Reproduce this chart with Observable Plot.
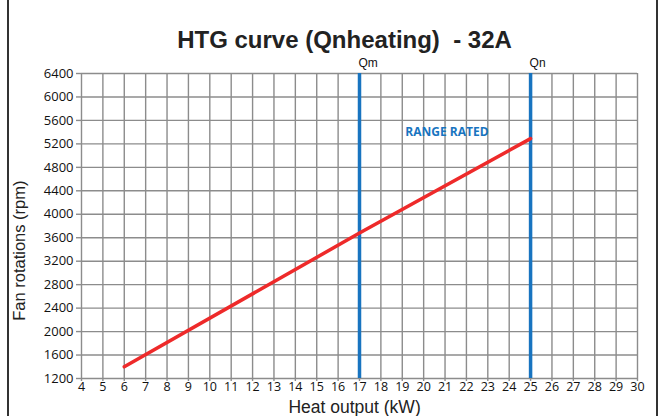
<!DOCTYPE html>
<html><head><meta charset="utf-8">
<script src="https://cdn.jsdelivr.net/npm/d3@7"></script>
<script src="https://cdn.jsdelivr.net/npm/@observablehq/plot@0.6"></script>
<style>
html,body{margin:0;padding:0;background:#fff;}
#wrap{position:relative;width:660px;height:416px;overflow:hidden;}
#frame{position:absolute;left:7px;top:-3px;width:651px;height:430px;border:2px solid #333;box-sizing:border-box;pointer-events:none;}
</style></head>
<body><div id="wrap"><div id="frame"></div></div>
<script>
const title = "HTG curve (Qnheating)  - 32A";
const xLabel = "Heat output (kW)";
const yLabel = "Fan rotations (rpm)";
const xTicks = d3.range(4, 31, 1);
const yTicks = d3.range(1200, 6401, 400);
const curveKW = [6, 17, 25];
const curveRPM = [1400, 3680, 5290];
const limitKW = [17, 25];
const limitNames = ["Qm", "Qn"];
const rangeText = "RANGE RATED";
const rangeAt = [21.09, 5394];

const curve = curveKW.map((x, i) => ({x, y: curveRPM[i]}));
const limits = limitKW.map((x, i) => ({x, name: limitNames[i]}));

const blue = "#1874c0";
const red = "#ee2a2a";
const grid = "#8c8c8c";
const tickFont = "Open Sans, Lato, sans-serif";
const arial = "Liberation Sans, Arial, sans-serif";

const chart = Plot.plot({
  width: 660, height: 416,
  marginLeft: 81, marginRight: 23, marginTop: 73, marginBottom: 38,
  style: {fontFamily: tickFont, background: "transparent"},
  x: {domain: [4, 30], axis: null},
  y: {domain: [1200, 6400], axis: null},
  marks: [
    Plot.gridX(xTicks, {stroke: grid, strokeOpacity: 1, strokeWidth: 1.4}),
    Plot.gridY(yTicks, {stroke: grid, strokeOpacity: 1, strokeWidth: 1.4}),
    Plot.axisX(xTicks, {tickSize: 3, stroke: grid, strokeWidth: 1.4, label: null, fill: "none", tickFormat: () => ""}),
    Plot.axisY(yTicks, {tickSize: 5, stroke: grid, strokeWidth: 1.4, label: null, fill: "none", tickFormat: () => ""}),
    Plot.text(xTicks, {x: d => d, y: 1200, text: d => String(d), lineAnchor: "top", dy: 4, fontSize: 12.5, fill: "#111", fontFamily: tickFont}),
    Plot.text(yTicks, {x: 4, y: d => d, text: d => String(d), textAnchor: "end", dx: -8, fontSize: 13, fill: "#111", fontFamily: tickFont}),
    Plot.ruleX(limits, {x: "x", y1: 1200, y2: 6400, stroke: blue, strokeWidth: 3.5}),
    Plot.text(limits, {x: "x", y: 6400, text: "name", textAnchor: "start", lineAnchor: "bottom", dx: -1, dy: -7, fontSize: 12, fontFamily: arial, fill: "#111"}),
    Plot.line(curve, {x: "x", y: "y", stroke: red, strokeWidth: 3.5}),
    Plot.text([rangeText], {x: rangeAt[0], y: rangeAt[1], text: d => d, fill: blue, fontWeight: "bold", fontSize: 12, fontFamily: tickFont}),
    Plot.text([title], {frameAnchor: "top", x: 16.3, lineAnchor: "bottom", dy: -26, text: d => d, fontSize: 24, fontWeight: "bold", fontFamily: arial, fill: "#222"}),
    Plot.text([xLabel], {frameAnchor: "bottom", x: 16.77, lineAnchor: "bottom", dy: 34, text: d => d, fontSize: 17.5, fontFamily: arial, fill: "#222"}),
    Plot.text([yLabel], {x: 4, y: 3380, dx: -61.5, rotate: -90, text: d => d, fontSize: 16.5, fontFamily: arial, fill: "#222"})
  ]
});
document.getElementById("wrap").prepend(chart);
</script></body></html>
